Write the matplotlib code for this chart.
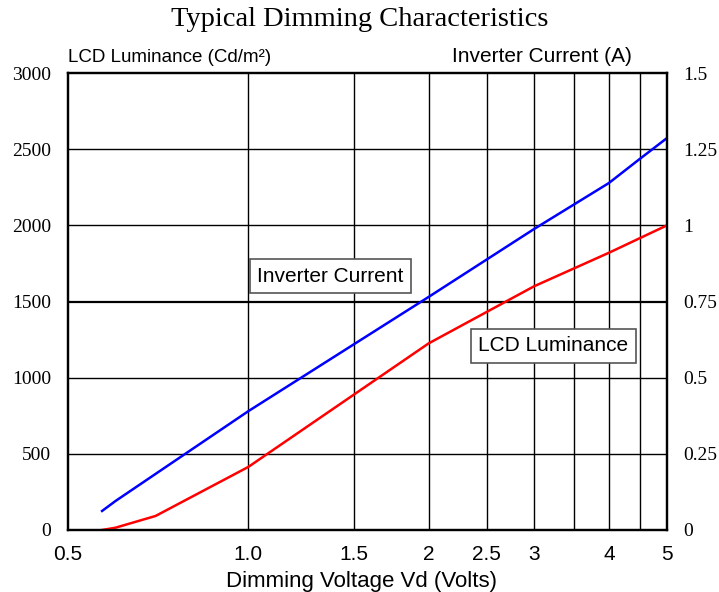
import matplotlib
matplotlib.use("Agg")
import matplotlib.pyplot as plt
from matplotlib.ticker import FixedLocator, NullFormatter
from matplotlib.transforms import ScaledTranslation

# Data
volt_blue = [0.57, 0.6, 1.0, 2.0, 3.0, 4.0, 4.5, 5.0]
inverter_lum_equiv = [125, 190, 780, 1530, 1976, 2278, 2435, 2573]
volt_red = [0.57, 0.6, 0.7, 1.0, 2.0, 3.0, 4.0, 5.0]
luminance = [0, 15, 92, 414, 1225, 1600, 1820, 2000]

x_ticks = [0.5, 1.0, 1.5, 2, 2.5, 3, 4, 5]
x_ticklabels = ["0.5", "1.0", "1.5", "2", "2.5", "3", "4", "5"]
x_grid = [1.0, 1.5, 2, 2.5, 3, 3.5, 4, 4.5]
y_ticks = [0, 500, 1000, 1500, 2000, 2500, 3000]
y2_labels = ["0", "0.25", "0.5", "0.75", "1", "1.25", "1.5"]

serif = "Liberation Serif"
sans = "Liberation Sans"

fig = plt.figure(figsize=(7.19, 5.92), dpi=100)
ax = fig.add_axes([68/719, 1-530/592, (667-68)/719, (530-73)/592])

ax.set_xscale("log")
ax.set_xlim(0.5, 5)
ax.set_ylim(0, 3000)

for xv in x_grid:
    ax.axvline(xv, color="black", lw=1.0, zorder=1)
for yv in y_ticks[1:-1]:
    ax.axhline(yv, color="black", lw=1.6 if yv == 1500 else 1.0, zorder=1)

ax.plot(volt_blue, inverter_lum_equiv, color="#0000ff", lw=1.8, zorder=3)
ax.plot(volt_red, luminance, color="#ff0000", lw=1.8, zorder=3)

ax.xaxis.set_major_locator(FixedLocator(x_ticks))
ax.xaxis.set_minor_locator(FixedLocator([]))
ax.xaxis.set_minor_formatter(NullFormatter())
ax.set_xticklabels(x_ticklabels, fontfamily=sans, fontsize=15)
offset = ScaledTranslation(5/100, 0, fig.dpi_scale_trans)
for lbl in ax.get_xticklabels():
    lbl.set_transform(lbl.get_transform() + offset)
ax.set_yticks(y_ticks)
ax.set_yticklabels([str(v) for v in y_ticks], fontfamily=serif, fontsize=14)
ax.tick_params(axis="x", length=0, pad=11)
ax.tick_params(axis="y", length=0, pad=12)

ax2 = ax.twinx()
ax2.set_ylim(0, 3000)
ax2.set_yticks(y_ticks)
ax2.set_yticklabels(y2_labels, fontfamily=serif, fontsize=14)
ax2.tick_params(axis="y", length=0, pad=12)

for a in (ax, ax2):
    for s in a.spines.values():
        s.set_linewidth(1.6)
        s.set_color("black")

fig.text(362/719, 1-581/592, "Dimming Voltage Vd (Volts)", ha="center", va="center",
         fontfamily=sans, fontsize=16)

fig.text(0.5, 1-20/592, "Typical Dimming Characteristics", ha="center", va="center",
         fontfamily=serif, fontsize=20.5)
fig.text(68/719, 1-57/592, "LCD Luminance (Cd/m²)", ha="left", va="center",
         fontfamily=sans, fontsize=13.5)
fig.text(632/719, 1-57/592, "Inverter Current (A)", ha="right", va="center",
         fontfamily=sans, fontsize=15)

box = dict(boxstyle="square,pad=0.35", fc="white", ec="#555555", lw=1.2)
ax.text(1.035, 1667, "Inverter Current", fontfamily=sans, fontsize=15,
        ha="left", va="center", bbox=box, zorder=4)
ax.text(2.42, 1208, "LCD Luminance", fontfamily=sans, fontsize=15,
        ha="left", va="center", bbox=box, zorder=4)

fig.savefig("out.png", dpi=100)
